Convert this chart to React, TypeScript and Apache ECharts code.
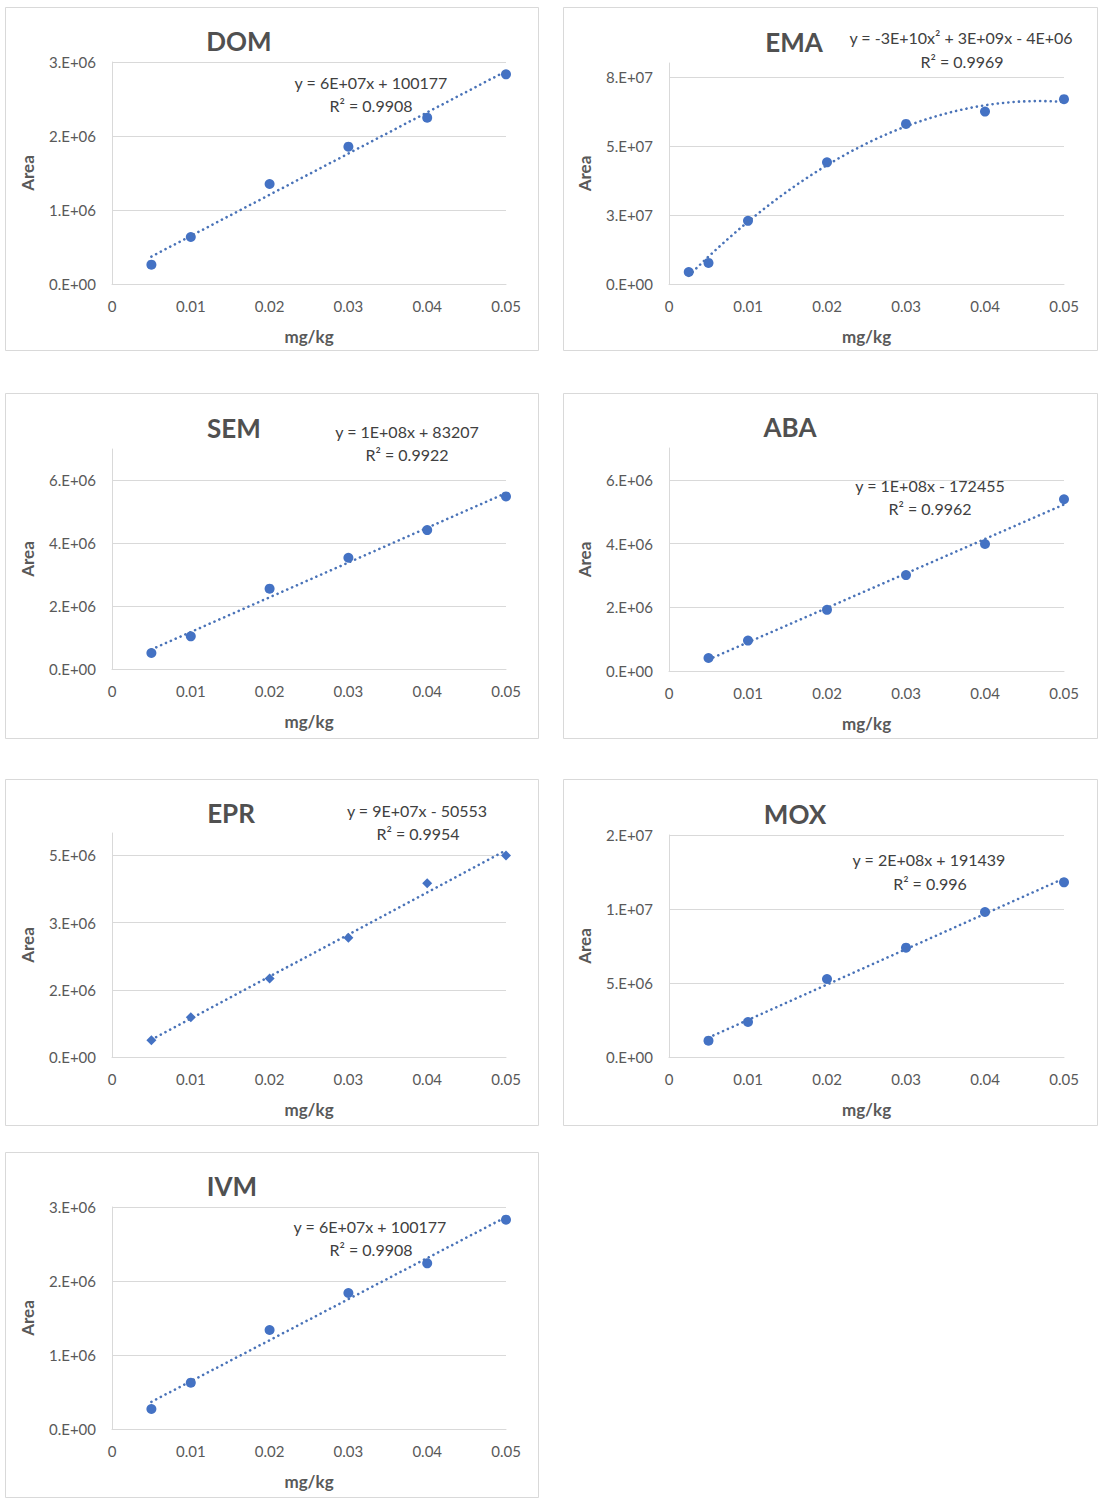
import React, { useEffect, useRef } from 'react';
import * as echarts from 'echarts';

// ---------- data ----------
const PANEL_NAMES = ['DOM', 'EMA', 'SEM', 'ABA', 'EPR', 'MOX', 'IVM'];
const CONC = [0.005, 0.01, 0.02, 0.03, 0.04, 0.05];
const EMA_CONC = [0.0025, 0.005, 0.01, 0.02, 0.03, 0.04, 0.05];

const DOM_AREA = [261000, 635000, 1351000, 1856000, 2248000, 2833000];
const EMA_AREA = [4350000, 7620000, 22860000, 44030000, 57940000, 62420000, 66900000];
const SEM_AREA = [509000, 1039000, 2555000, 3541000, 4420000, 5491000];
const ABA_AREA = [409000, 955000, 1920000, 3010000, 3986000, 5392000];
const EPR_AREA = [373000, 888000, 1754000, 2664000, 3881000, 4500000];
const MOX_AREA = [1104000, 2365000, 5270000, 7387000, 9797000, 11800000];
const IVM_AREA = [270000, 626000, 1338000, 1838000, 2239000, 2829000];

const X_VALUES = [CONC, EMA_CONC, CONC, CONC, CONC, CONC, CONC];
const Y_VALUES = [DOM_AREA, EMA_AREA, SEM_AREA, ABA_AREA, EPR_AREA, MOX_AREA, IVM_AREA];

const EQUATIONS = [
  'y = 6E+07x + 100177',
  'y = -3E+10x² + 3E+09x - 4E+06',
  'y = 1E+08x + 83207',
  'y = 1E+08x - 172455',
  'y = 9E+07x - 50553',
  'y = 2E+08x + 191439',
  'y = 6E+07x + 100177',
];
const R2_LABELS = ['R² = 0.9908', 'R² = 0.9969', 'R² = 0.9922', 'R² = 0.9962', 'R² = 0.9954', 'R² = 0.996', 'R² = 0.9908'];

const X_MIN = 0;
const X_MAX = 0.05;
const X_INTERVAL = 0.01;
const Y_MAX = [3e6, 8e7, 7e6, 7e6, 5e6, 1.5e7, 3e6];
const Y_INTERVAL = [1e6, 2.5e7, 2e6, 2e6, 1.5e6, 5e6, 1e6];
const TREND_ORDER = [1, 2, 1, 1, 1, 1, 1];
const MARKERS = ['circle', 'circle', 'circle', 'circle', 'diamond', 'circle', 'circle'];

// ---------- layout ----------
const GRIDS = [
  { left: 112, top: 62, width: 394, height: 222 },
  { left: 669, top: 63, width: 395, height: 221 },
  { left: 112, top: 449, width: 394, height: 220 },
  { left: 669, top: 448, width: 395, height: 223 },
  { left: 112, top: 833, width: 394, height: 224 },
  { left: 669, top: 835, width: 395, height: 222 },
  { left: 112, top: 1207, width: 394, height: 222 },
];
const BOXES = [
  [5, 7, 533, 343],
  [563, 7, 534, 343],
  [5, 393, 533, 345],
  [563, 393, 534, 345],
  [5, 779, 533, 346],
  [563, 779, 534, 346],
  [5, 1152, 533, 345],
];
const TITLE_POS = [[239, 41], [794, 42], [234, 428], [790, 427], [231, 813], [795, 814], [232, 1186]];
const EQ_POS = [[371, 82], [961, 37], [407, 431], [930, 485], [417, 810], [929, 859], [370, 1226]];
const R2_POS = [[371, 105], [962, 61], [407, 454], [930, 508], [418, 833], [930, 883], [371, 1249]];

const FONT = 'Lato, "Open Sans", sans-serif';
const BLUE = '#4472C4';
const TREND_BLUE = '#4a73b8';
const GRID_GRAY = '#d9d9d9';
const TEXT_GRAY = '#595959';

function polyFit(xs: number[], ys: number[], order: number): number[] {
  const n = order + 1;
  const A: number[][] = [];
  for (let r = 0; r < n; r++) A.push(new Array(n + 1).fill(0));
  for (let i = 0; i < xs.length; i++) {
    for (let r = 0; r < n; r++) {
      for (let c = 0; c < n; c++) A[r][c] += Math.pow(xs[i], r + c);
      A[r][n] += ys[i] * Math.pow(xs[i], r);
    }
  }
  for (let p = 0; p < n; p++) {
    let best = p;
    for (let r = p + 1; r < n; r++) if (Math.abs(A[r][p]) > Math.abs(A[best][p])) best = r;
    const tmp = A[p]; A[p] = A[best]; A[best] = tmp;
    for (let r = 0; r < n; r++) {
      if (r === p) continue;
      const f = A[r][p] / A[p][p];
      for (let c = p; c <= n; c++) A[r][c] -= f * A[p][c];
    }
  }
  const coef: number[] = [];
  for (let r = 0; r < n; r++) coef.push(A[r][n] / A[r][r]);
  return coef;
}

function evalPoly(coef: number[], x: number) {
  let s = 0;
  for (let i = 0; i < coef.length; i++) s += coef[i] * Math.pow(x, i);
  return s;
}

function sciLabel(v: number): string {
  if (Math.abs(v) < 1e-9) return '0.E+00';
  let e = Math.floor(Math.log10(Math.abs(v)) + 1e-9);
  let m = Math.round(v / Math.pow(10, e) + 1e-9);
  if (m >= 10) { m = 1; e += 1; }
  return m + '.E+' + String(e).padStart(2, '0');
}

function xLabel(v: number): string {
  if (Math.abs(v) < 1e-12) return '0';
  return String(parseFloat(v.toFixed(3)));
}

function buildOption() {
  const grid: any[] = [];
  const xAxis: any[] = [];
  const yAxis: any[] = [];
  const series: any[] = [];
  const graphic: any[] = [];

  PANEL_NAMES.forEach((name, i) => {
    grid.push({ ...GRIDS[i], containLabel: false, outerBoundsMode: 'none' });
    xAxis.push({
      type: 'value', gridIndex: i, min: X_MIN, max: X_MAX, interval: X_INTERVAL,
      name: 'mg/kg', nameLocation: 'middle', nameGap: 44,
      nameTextStyle: { fontFamily: FONT, fontWeight: 'bold', fontSize: 17, color: TEXT_GRAY },
      axisLine: { show: true, lineStyle: { color: GRID_GRAY, width: 1 } },
      axisTick: { show: false },
      splitLine: { show: false },
      axisLabel: { color: TEXT_GRAY, fontFamily: FONT, fontSize: 15, margin: 14, formatter: xLabel },
    });
    const isMultiple = Math.abs(Y_MAX[i] / Y_INTERVAL[i] - Math.round(Y_MAX[i] / Y_INTERVAL[i])) < 1e-9;
    yAxis.push({
      type: 'value', gridIndex: i, min: 0, max: Y_MAX[i], interval: Y_INTERVAL[i],
      name: 'Area', nameLocation: 'middle', nameGap: 76, nameRotate: 90,
      nameTextStyle: { fontFamily: FONT, fontWeight: 'bold', fontSize: 17, color: TEXT_GRAY },
      axisLine: { show: true, lineStyle: { color: GRID_GRAY, width: 1 } },
      axisTick: { show: false },
      splitLine: { show: true, showMaxLine: isMultiple, lineStyle: { color: GRID_GRAY, width: 1 } },
      axisLabel: { color: TEXT_GRAY, fontFamily: FONT, fontSize: 15, margin: 16, showMaxLabel: isMultiple, formatter: sciLabel },
    });

    const xs = X_VALUES[i];
    const ys = Y_VALUES[i];
    const coef = polyFit(xs, ys, TREND_ORDER[i]);
    const xmin = Math.min(...xs);
    const xmax = Math.max(...xs);
    const trend: number[][] = [];
    const steps = TREND_ORDER[i] === 1 ? 1 : 80;
    for (let k = 0; k <= steps; k++) {
      const x = xmin + (xmax - xmin) * (k / steps);
      trend.push([x, evalPoly(coef, x)]);
    }
    series.push({
      type: 'line', name: name + ' trend', xAxisIndex: i, yAxisIndex: i, data: trend,
      showSymbol: false, symbol: 'none', smooth: false, silent: true, z: 3,
      lineStyle: { color: TREND_BLUE, width: 2.6, type: [0.1, 5.2], cap: 'round' },
    });
    series.push({
      type: 'scatter', name, xAxisIndex: i, yAxisIndex: i,
      data: xs.map((x, k) => [x, ys[k]]),
      symbol: MARKERS[i], symbolSize: 10, z: 2,
      itemStyle: { color: BLUE, opacity: 1 },
    });

    const b = BOXES[i];
    graphic.push({
      type: 'rect', silent: true, z: -1,
      shape: { x: b[0] + 0.5, y: b[1] + 0.5, width: b[2], height: b[3] },
      style: { fill: 'none', stroke: GRID_GRAY, lineWidth: 1 },
    });
    const txt = (t: string, pos: number[], size: number, weight: string, color: string) => ({
      type: 'text', x: pos[0], y: pos[1], silent: true,
      style: {
        text: t, fill: color, fontFamily: FONT, fontSize: size, fontWeight: weight,
        align: 'center', verticalAlign: 'middle', textAlign: 'center', textVerticalAlign: 'middle',
      },
    });
    graphic.push(txt(name, TITLE_POS[i], 26, 'bold', '#505050'));
    graphic.push(txt(EQUATIONS[i], EQ_POS[i], 16, 'normal', '#404040'));
    graphic.push(txt(R2_LABELS[i], R2_POS[i], 16, 'normal', '#404040'));
  });

  return {
    animation: false,
    backgroundColor: '#ffffff',
    textStyle: { fontFamily: FONT },
    grid, xAxis, yAxis, series, graphic,
  };
}

export default function App() {
  const ref = useRef<HTMLDivElement>(null);
  useEffect(() => {
    if (!ref.current) return;
    const chart = echarts.init(ref.current, null, { renderer: 'svg' });
    chart.setOption(buildOption() as any);
    return () => chart.dispose();
  }, []);
  return (
    <div
      ref={ref}
      style={{ position: 'absolute', left: 0, top: 0, width: 1111, height: 1508, background: '#fff' }}
    />
  );
}
